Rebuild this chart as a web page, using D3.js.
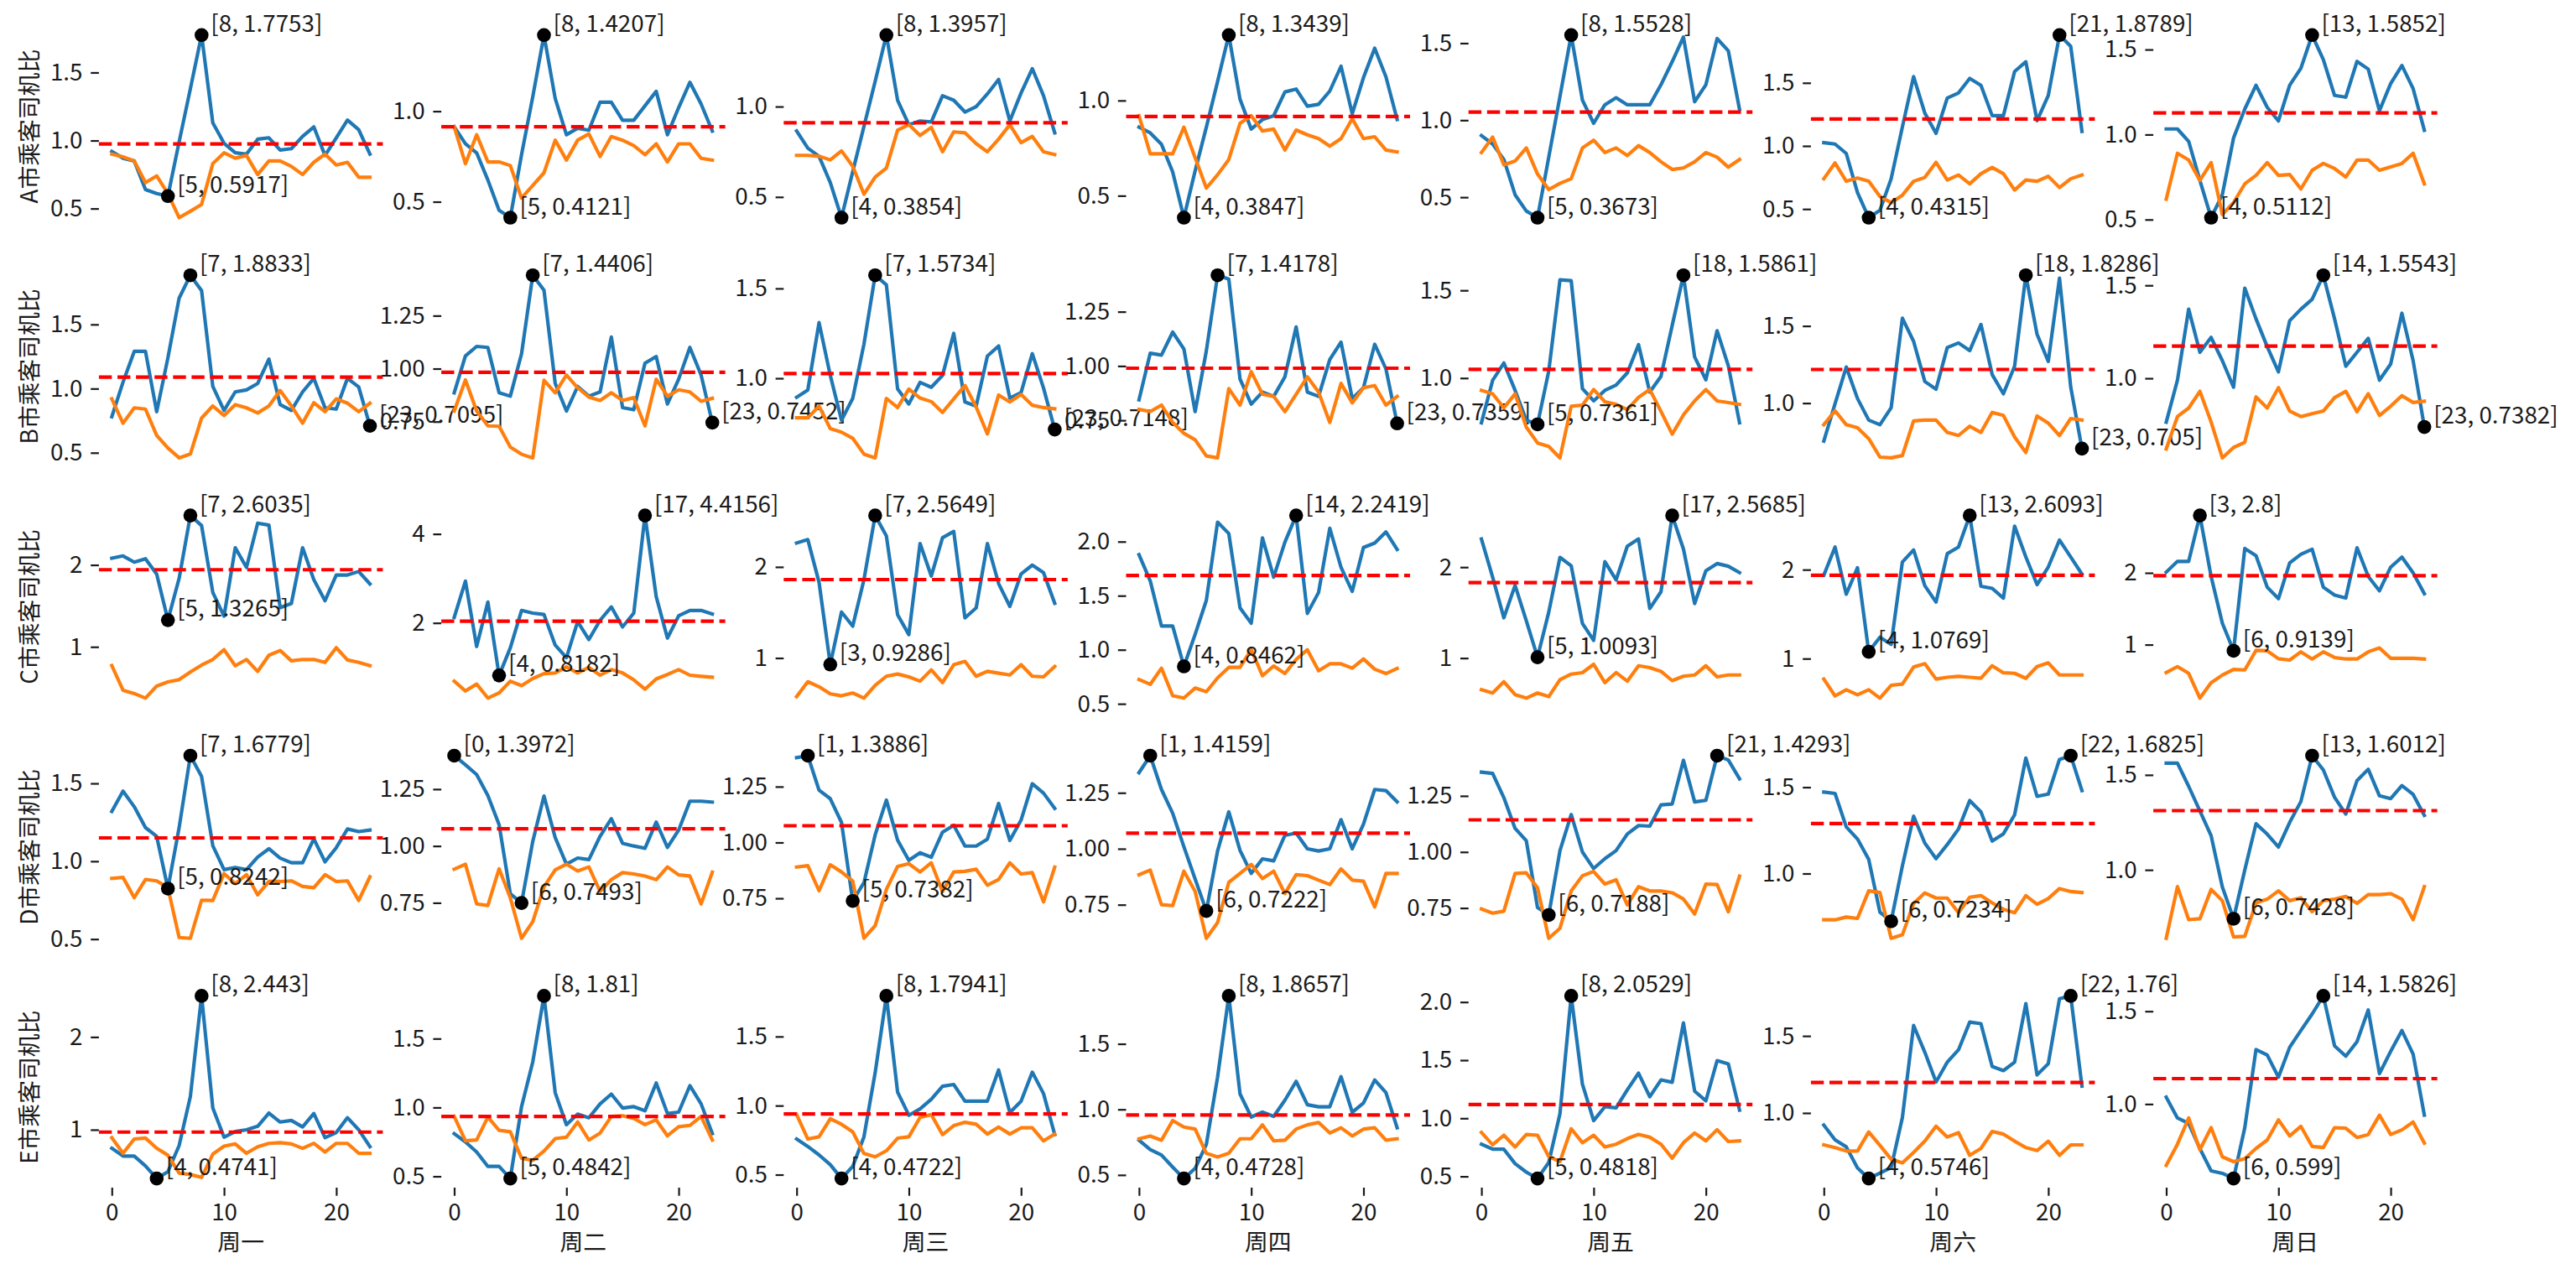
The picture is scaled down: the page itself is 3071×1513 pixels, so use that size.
<!DOCTYPE html>
<html><head><meta charset="utf-8">
<script src="https://cdn.jsdelivr.net/npm/d3@7"></script>
<style>
body{margin:0;background:#fff}
svg{display:block}
text{font-family:"Noto Sans CJK SC","DejaVu Sans",sans-serif;fill:#1a1a1a}
</style>
</head><body>
<svg id="chart" width="3071" height="1513"></svg>
<script>
const hours = [0,1,2,3,4,5,6,7,8,9,10,11,12,13,14,15,16,17,18,19,20,21,22,23];
const days = ["周一","周二","周三","周四","周五","周六","周日"];
const cityLabels = ["A市乘客司机比","B市乘客司机比","C市乘客司机比","D市乘客司机比","E市乘客司机比"];

const blueA = [
 [0.92,0.87,0.85,0.64,0.61,0.5917,0.99,1.38,1.7753,1.13,0.98,0.91,0.90,1.01,1.02,0.93,0.94,1.03,1.10,0.89,1.02,1.15,1.08,0.90],
 [0.914,0.82,0.77,0.62,0.453,0.4121,0.76,1.08,1.4207,1.07,0.87,0.906,0.895,1.05,1.05,0.95,0.95,1.03,1.11,0.87,1.02,1.16,1.04,0.89],
 [0.865,0.77,0.725,0.58,0.3854,0.64,0.89,1.14,1.3957,1.035,0.90,0.92,0.915,1.06,1.035,0.97,1.0,1.07,1.15,0.92,1.075,1.21,1.06,0.855],
 [0.86,0.83,0.77,0.625,0.3847,0.63,0.86,1.10,1.3439,1.007,0.85,0.90,0.92,1.045,1.06,0.97,0.98,1.05,1.18,0.93,1.12,1.275,1.125,0.90],
 [0.90,0.845,0.745,0.516,0.41,0.3673,0.76,1.155,1.5528,1.13,0.98,1.10,1.146,1.10,1.10,1.10,1.23,1.38,1.54,1.12,1.23,1.53,1.45,1.07],
 [1.026,1.015,0.94,0.63,0.4315,0.49,0.74,1.15,1.55,1.26,1.10,1.38,1.42,1.535,1.48,1.24,1.24,1.59,1.667,1.20,1.40,1.8789,1.79,1.115],
 [1.033,1.033,0.96,0.73,0.5112,0.646,0.98,1.15,1.29,1.16,1.08,1.29,1.39,1.5852,1.44,1.23,1.22,1.43,1.385,1.14,1.30,1.406,1.27,1.025]
];
const orangeA = [
 [0.90,0.88,0.85,0.69,0.74,0.61,0.433,0.48,0.53,0.83,0.91,0.87,0.89,0.75,0.85,0.85,0.81,0.75,0.84,0.90,0.82,0.84,0.73,0.73],
 [0.914,0.71,0.87,0.72,0.72,0.70,0.52,0.59,0.66,0.84,0.73,0.84,0.875,0.75,0.86,0.84,0.81,0.76,0.82,0.72,0.82,0.82,0.74,0.73],
 [0.73,0.73,0.725,0.705,0.755,0.67,0.515,0.61,0.66,0.87,0.90,0.84,0.885,0.75,0.86,0.855,0.795,0.75,0.82,0.90,0.80,0.835,0.75,0.735],
 [0.92,0.72,0.72,0.72,0.86,0.70,0.54,0.61,0.69,0.88,0.92,0.84,0.85,0.74,0.845,0.82,0.80,0.76,0.80,0.905,0.80,0.81,0.74,0.73],
 [0.79,0.89,0.71,0.735,0.82,0.65,0.55,0.59,0.62,0.82,0.87,0.79,0.82,0.77,0.835,0.79,0.73,0.68,0.69,0.73,0.79,0.76,0.695,0.745],
 [0.74,0.865,0.72,0.745,0.72,0.60,0.55,0.61,0.72,0.75,0.87,0.73,0.77,0.70,0.78,0.83,0.78,0.65,0.73,0.72,0.76,0.67,0.74,0.77],
 [0.62,0.89,0.85,0.73,0.835,0.53,0.60,0.71,0.76,0.835,0.76,0.765,0.68,0.79,0.83,0.80,0.75,0.85,0.85,0.79,0.81,0.83,0.89,0.71]
];
const meanA = [0.975,0.914,0.91,0.916,1.053,1.214,1.127];
const ticksA = [["0.5","1.0","1.5"],["0.5","1.0"],["0.5","1.0"],["0.5","1.0"],["0.5","1.0","1.5"],["0.5","1.0","1.5"],["0.5","1.0","1.5"]];

const blueB = [
 [0.78,1.05,1.29,1.29,0.82,1.24,1.705,1.8833,1.764,1.017,0.83,0.974,0.99,1.04,1.23,0.875,0.83,0.974,1.08,0.85,0.84,1.08,1.013,0.7095],
 [0.886,1.06,1.105,1.10,0.886,0.87,1.07,1.4406,1.37,0.93,0.80,0.916,0.87,0.89,1.149,0.816,0.806,1.026,1.057,0.833,0.95,1.10,0.97,0.7452],
 [0.894,0.935,1.31,1.016,0.767,0.888,1.19,1.5734,1.52,0.94,0.857,0.977,0.95,1.016,1.25,0.868,0.845,1.124,1.18,0.89,0.92,1.137,0.946,0.7148],
 [0.844,1.059,1.05,1.156,1.078,0.79,1.07,1.4178,1.40,0.94,0.824,0.88,0.86,0.95,1.18,0.88,0.86,1.03,1.11,0.85,0.90,1.10,0.987,0.7359],
 [0.745,0.987,1.086,0.93,0.76,0.7361,1.04,1.56,1.555,0.94,0.87,0.93,0.96,1.03,1.19,0.92,1.01,1.30,1.5861,1.12,0.99,1.27,1.07,0.745],
 [0.754,0.996,1.234,1.03,0.89,0.86,0.97,1.55,1.40,1.14,1.09,1.36,1.39,1.34,1.51,1.185,1.06,1.24,1.8286,1.446,1.27,1.81,1.104,0.705],
 [0.764,0.99,1.372,1.14,1.22,1.095,0.952,1.485,1.32,1.17,1.035,1.31,1.372,1.425,1.5543,1.32,1.065,1.14,1.215,0.99,1.077,1.35,1.095,0.7382]
];
const orangeB = [
 [0.92,0.73,0.85,0.84,0.635,0.537,0.46,0.49,0.77,0.865,0.79,0.875,0.85,0.81,0.865,0.985,0.865,0.73,0.89,0.82,0.92,0.886,0.82,0.886],
 [0.80,0.947,0.80,0.73,0.728,0.63,0.596,0.579,0.945,0.886,0.97,0.91,0.866,0.85,0.886,0.85,0.863,0.73,0.95,0.87,0.90,0.89,0.846,0.86],
 [0.78,0.78,0.845,0.72,0.70,0.666,0.578,0.557,0.888,0.837,0.94,0.89,0.87,0.81,0.885,0.96,0.84,0.69,0.907,0.868,0.91,0.85,0.837,0.83],
 [0.80,0.79,0.82,0.74,0.69,0.66,0.586,0.577,0.896,0.82,0.974,0.87,0.86,0.79,0.87,0.95,0.88,0.74,0.92,0.83,0.90,0.91,0.82,0.86],
 [0.93,0.91,0.83,0.91,0.72,0.63,0.61,0.545,0.84,0.845,0.935,0.865,0.85,0.82,0.89,0.935,0.81,0.68,0.79,0.87,0.935,0.87,0.86,0.85],
 [0.86,0.95,0.86,0.84,0.77,0.65,0.645,0.66,0.885,0.89,0.89,0.81,0.79,0.85,0.81,0.94,0.92,0.78,0.68,0.917,0.87,0.79,0.90,0.89],
 [0.62,0.794,0.84,0.93,0.765,0.572,0.628,0.656,0.90,0.84,0.95,0.824,0.794,0.81,0.824,0.896,0.93,0.82,0.917,0.80,0.85,0.907,0.87,0.877]
];
const meanB = [1.09,0.983,1.026,0.99,1.05,1.218,1.173];
const ticksB = [["0.5","1.0","1.5"],["0.75","1.00","1.25"],["1.0","1.5"],["0.75","1.00","1.25"],["1.0","1.5"],["1.0","1.5"],["1.0","1.5"]];

const blueC = [
 [2.082,2.11,2.034,2.075,1.887,1.3265,1.836,2.6035,2.48,1.665,1.375,2.21,1.97,2.51,2.485,1.478,1.53,2.21,1.82,1.563,1.877,1.877,1.92,1.768],
 [2.125,2.94,1.47,2.47,0.8182,1.44,2.28,2.22,2.19,1.50,1.22,2.03,1.625,2.06,2.36,1.91,2.22,4.4156,2.59,1.66,2.16,2.28,2.28,2.2],
 [2.263,2.30,1.83,0.9286,1.505,1.35,1.86,2.5649,2.34,1.474,1.257,2.257,1.90,2.32,2.39,1.44,1.55,2.257,1.817,1.567,1.923,2.02,1.938,1.60],
 [1.88,1.637,1.22,1.22,0.8462,1.142,1.457,2.18,2.075,1.388,1.245,2.034,1.672,1.995,2.2419,1.336,1.53,2.124,1.762,1.54,1.946,1.987,2.09,1.927],
 [2.31,1.89,1.443,1.80,1.41,1.0093,1.505,2.108,2.015,1.38,1.195,2.06,1.86,2.23,2.31,1.545,1.73,2.5685,2.20,1.60,1.96,2.04,2.01,1.94],
 [1.937,2.254,1.724,2.022,1.0769,1.24,1.16,2.086,2.222,1.819,1.635,2.18,2.254,2.6093,1.813,1.79,1.68,2.49,2.143,1.832,2.03,2.333,2.143,1.95],
 [2.01,2.16,2.16,2.8,1.95,1.3,0.9139,2.34,2.24,1.80,1.64,2.14,2.26,2.33,1.80,1.69,1.65,2.35,1.95,1.75,2.08,2.22,2.0,1.71]
];
const orangeC = [
 [0.771,0.471,0.43,0.375,0.522,0.573,0.6,0.693,0.778,0.846,0.966,0.77,0.846,0.70,0.898,0.956,0.83,0.846,0.846,0.81,0.99,0.84,0.81,0.77],
 [0.69,0.47,0.625,0.31,0.425,0.69,0.59,0.75,0.86,0.875,1.01,0.875,1.0,0.825,0.95,0.875,0.72,0.51,0.74,0.84,0.95,0.825,0.80,0.78],
 [0.576,0.74,0.684,0.607,0.585,0.616,0.56,0.70,0.80,0.824,0.793,0.746,0.87,0.73,0.926,0.963,0.80,0.854,0.833,0.814,0.926,0.80,0.793,0.907],
 [0.724,0.68,0.83,0.575,0.553,0.646,0.612,0.74,0.837,0.837,1.0,0.76,0.85,0.78,0.91,1.0,0.806,0.87,0.87,0.83,0.915,0.82,0.78,0.827],
 [0.653,0.616,0.74,0.598,0.56,0.616,0.576,0.762,0.824,0.84,0.932,0.73,0.84,0.746,0.916,0.895,0.854,0.752,0.80,0.814,0.916,0.793,0.814,0.814],
 [0.77,0.58,0.65,0.594,0.65,0.556,0.70,0.714,0.905,0.943,0.77,0.79,0.80,0.79,0.78,0.92,0.84,0.835,0.778,0.91,0.952,0.816,0.816,0.816],
 [0.61,0.694,0.60,0.255,0.47,0.576,0.655,0.647,0.92,0.914,0.804,0.785,0.90,0.80,0.90,0.82,0.80,0.80,0.90,0.953,0.81,0.81,0.81,0.80]
];
const meanC = [1.942,2.04,1.861,1.687,1.83,1.937,1.96];
const ticksC = [["1","2"],["2","4"],["1","2"],["0.5","1.0","1.5","2.0"],["1","2"],["1","2"],["1","2"]];

const blueD = [
 [1.32,1.45,1.35,1.216,1.16,0.8242,1.216,1.6779,1.544,1.10,0.946,0.96,0.946,1.027,1.08,1.02,0.99,0.99,1.144,0.996,1.087,1.207,1.19,1.20],
 [1.3972,1.357,1.314,1.222,1.094,0.79,0.7493,1.02,1.22,1.037,0.92,0.947,0.94,1.043,1.12,1.012,1.0,0.99,1.105,0.994,1.07,1.197,1.197,1.193],
 [1.38,1.3886,1.234,1.196,1.09,0.7382,0.82,1.034,1.19,1.01,0.92,0.954,0.934,1.046,1.077,0.984,0.984,1.015,1.175,1.009,1.10,1.263,1.221,1.153],
 [1.34,1.4159,1.265,1.159,1.009,0.865,0.7222,0.99,1.165,0.993,0.89,0.955,0.946,1.06,1.07,1.0,0.99,1.0,1.13,1.0,1.11,1.265,1.26,1.21],
 [1.356,1.35,1.242,1.105,1.05,0.752,0.7188,1.006,1.167,1.0,0.926,0.97,1.006,1.08,1.118,1.115,1.21,1.214,1.409,1.223,1.23,1.4293,1.41,1.326],
 [1.472,1.464,1.27,1.20,1.082,0.776,0.7234,1.044,1.332,1.176,1.086,1.168,1.258,1.423,1.357,1.188,1.23,1.34,1.669,1.447,1.46,1.661,1.6825,1.48],
 [1.562,1.562,1.44,1.31,1.18,0.91,0.7428,1.0,1.243,1.188,1.12,1.25,1.36,1.6012,1.526,1.382,1.294,1.47,1.53,1.39,1.375,1.444,1.397,1.287]
];
const orangeD = [
 [0.89,0.896,0.766,0.883,0.874,0.83,0.51,0.505,0.75,0.748,0.92,0.856,0.914,0.784,0.87,0.87,0.874,0.838,0.83,0.914,0.87,0.874,0.748,0.90],
 [0.898,0.92,0.745,0.738,0.90,0.772,0.594,0.667,0.82,0.895,0.92,0.89,0.908,0.80,0.852,0.883,0.877,0.868,0.852,0.908,0.873,0.868,0.745,0.885],
 [0.89,0.896,0.784,0.90,0.868,0.828,0.571,0.628,0.79,0.893,0.905,0.868,0.909,0.78,0.868,0.871,0.88,0.809,0.834,0.909,0.859,0.865,0.734,0.89],
 [0.884,0.905,0.75,0.746,0.90,0.81,0.60,0.67,0.85,0.89,0.93,0.867,0.90,0.80,0.884,0.88,0.86,0.84,0.91,0.86,0.855,0.74,0.89,0.89],
 [0.746,0.727,0.736,0.904,0.907,0.84,0.615,0.66,0.826,0.894,0.913,0.857,0.876,0.764,0.845,0.826,0.826,0.818,0.79,0.723,0.857,0.855,0.733,0.892],
 [0.732,0.732,0.748,0.74,0.90,0.89,0.625,0.645,0.826,0.888,0.858,0.858,0.773,0.863,0.872,0.83,0.793,0.773,0.872,0.822,0.855,0.913,0.896,0.89],
 [0.64,0.912,0.738,0.743,0.897,0.838,0.647,0.65,0.826,0.846,0.89,0.838,0.853,0.78,0.838,0.846,0.86,0.824,0.87,0.87,0.875,0.846,0.738,0.912]
];
const meanD = [1.15,1.076,1.075,1.07,1.143,1.29,1.312];
const ticksD = [["0.5","1.0","1.5"],["0.75","1.00","1.25"],["0.75","1.00","1.25"],["0.75","1.00","1.25"],["0.75","1.00","1.25"],["1.0","1.5"],["1.0","1.5"]];

const blueE = [
 [0.80,0.716,0.716,0.61,0.4741,0.547,0.83,1.358,2.443,1.235,0.92,0.98,1.0,1.037,1.18,1.083,1.10,1.03,1.174,0.914,0.97,1.13,1.0,0.817],
 [0.81,0.75,0.677,0.572,0.572,0.4842,1.006,1.33,1.81,1.107,0.875,0.952,0.925,1.026,1.097,0.996,1.006,0.976,1.178,0.956,0.966,1.158,1.026,0.81],
 [0.758,0.704,0.643,0.572,0.4722,0.56,0.774,1.238,1.7941,1.097,0.93,0.976,1.046,1.14,1.153,1.032,1.032,1.032,1.258,0.95,1.032,1.242,1.087,0.79],
 [0.765,0.694,0.652,0.56,0.4728,0.55,0.733,1.246,1.8657,1.118,0.942,0.98,0.947,1.07,1.214,1.036,1.02,1.02,1.25,0.978,1.049,1.224,1.128,0.86],
 [0.777,0.734,0.734,0.61,0.537,0.4818,0.62,1.04,2.0529,1.293,0.98,1.10,1.09,1.245,1.388,1.185,1.33,1.31,1.82,1.233,1.15,1.496,1.468,1.07],
 [0.921,0.826,0.78,0.643,0.5746,0.61,0.645,0.97,1.568,1.394,1.201,1.33,1.41,1.59,1.58,1.302,1.275,1.33,1.71,1.247,1.32,1.742,1.76,1.174],
 [1.037,0.925,0.896,0.76,0.64,0.627,0.599,0.873,1.294,1.264,1.145,1.306,1.396,1.485,1.5826,1.313,1.258,1.336,1.507,1.164,1.284,1.396,1.269,0.94]
];
const orangeE = [
 [0.914,0.746,0.90,0.91,0.80,0.725,0.532,0.517,0.486,0.737,0.823,0.847,0.746,0.817,0.853,0.86,0.847,0.80,0.853,0.76,0.853,0.853,0.746,0.746],
 [0.935,0.758,0.764,0.93,0.834,0.824,0.632,0.616,0.683,0.774,0.784,0.895,0.764,0.814,0.935,0.94,0.92,0.875,0.91,0.794,0.86,0.87,0.935,0.764],
 [0.935,0.758,0.774,0.905,0.865,0.81,0.653,0.629,0.673,0.764,0.774,0.915,0.935,0.79,0.855,0.879,0.865,0.794,0.845,0.794,0.839,0.839,0.744,0.794],
 [0.776,0.797,0.765,0.915,0.865,0.85,0.665,0.637,0.665,0.776,0.776,0.882,0.76,0.765,0.85,0.882,0.90,0.82,0.86,0.797,0.85,0.86,0.765,0.776],
 [0.878,0.772,0.854,0.753,0.861,0.854,0.67,0.628,0.91,0.79,0.854,0.753,0.777,0.825,0.861,0.837,0.777,0.657,0.79,0.873,0.806,0.902,0.8,0.806],
 [0.793,0.775,0.753,0.753,0.877,0.79,0.70,0.676,0.744,0.817,0.914,0.844,0.872,0.725,0.77,0.88,0.863,0.817,0.775,0.756,0.817,0.725,0.793,0.793],
 [0.67,0.784,0.925,0.754,0.873,0.716,0.69,0.706,0.761,0.806,0.915,0.828,0.88,0.772,0.766,0.873,0.87,0.82,0.836,0.94,0.836,0.861,0.903,0.79]
];
const meanE = [0.975,0.935,0.94,0.957,1.118,1.198,1.137];
const ticksE = [["1","2"],["0.5","1.0","1.5"],["0.5","1.0","1.5"],["0.5","1.0","1.5"],["0.5","1.0","1.5","2.0"],["1.0","1.5"],["1.0","1.5"]];
const xTickValues = [0,10,20];

const blueRows = [blueA,blueB,blueC,blueD,blueE];
const orangeRows = [orangeA,orangeB,orangeC,orangeD,orangeE];
const meanRows = [meanA,meanB,meanC,meanD,meanE];
const tickRows = [ticksA,ticksB,ticksC,ticksD,ticksE];

// layout
const FS = 27.8;
const axLeft0 = 117.9, colStep = 408.2, axW = 338.5;
const axTop0 = 30.9, rowStep = 286.4, axH = 239.5;
const LW = 4.17;

const svg = d3.select("#chart");
const fmtLabel = (i, v) => `[${i}, ${+v.toFixed(4)}]`;

for (let r = 0; r < 5; r++) {
  for (let c = 0; c < 7; c++) {
    const L = axLeft0 + colStep * c, T = axTop0 + rowStep * r;
    const blue = blueRows[r][c], orange = orangeRows[r][c];
    const all = blue.concat(orange);
    const lo = d3.min(all), hi = d3.max(all), pad = (hi - lo) * 0.05;
    const x = d3.scaleLinear().domain([-1.15, 24.15]).range([L, L + axW]);
    const y = d3.scaleLinear().domain([lo - pad, hi + pad]).range([T + axH, T]);
    const g = svg.append("g");

    // y axis
    const ticks = tickRows[r][c];
    const ya = g.append("g").attr("transform", `translate(${L},0)`)
      .call(d3.axisLeft(y).tickValues(ticks.map(Number)).tickFormat((d, i) => ticks[i]).tickSize(9.7).tickPadding(9.7));
    ya.select(".domain").remove();
    ya.selectAll(".tick line").attr("stroke", "#1a1a1a").attr("stroke-width", 2.2);
    ya.selectAll(".tick text").attr("font-size", FS).attr("font-family", '"Noto Sans CJK SC", sans-serif').attr("fill", "#1a1a1a");

    if (r === 4) {
      const xa = g.append("g").attr("transform", `translate(0,${T + axH})`)
        .call(d3.axisBottom(x).tickValues(xTickValues).tickSize(9.7).tickPadding(9.7));
      xa.select(".domain").remove();
      xa.selectAll(".tick line").attr("stroke", "#1a1a1a").attr("stroke-width", 2.2);
      xa.selectAll(".tick text").attr("font-size", FS).attr("font-family", '"Noto Sans CJK SC", sans-serif').attr("fill", "#1a1a1a");
      g.append("text").attr("x", L + axW / 2).attr("y", 1479).attr("text-anchor", "middle")
        .attr("dominant-baseline", "central").attr("font-size", FS).text(days[c]);
    }
    if (c === 0) {
      g.append("text").attr("transform", `translate(33,${T + axH / 2}) rotate(-90)`)
        .attr("text-anchor", "middle").attr("dominant-baseline", "central")
        .attr("font-size", FS).text(cityLabels[r]);
    }

    const line = d3.line().x((d, i) => x(hours[i])).y(d => y(d));
    g.append("path").datum(blue).attr("d", line).attr("fill", "none")
      .attr("stroke", "#1f77b4").attr("stroke-width", LW).attr("stroke-linejoin", "round").attr("stroke-linecap", "square");
    g.append("path").datum(orange).attr("d", line).attr("fill", "none")
      .attr("stroke", "#ff7f0e").attr("stroke-width", LW).attr("stroke-linejoin", "round").attr("stroke-linecap", "square");
    g.append("line").attr("x1", L).attr("x2", L + axW)
      .attr("y1", y(meanRows[r][c])).attr("y2", y(meanRows[r][c]))
      .attr("stroke", "#ff0000").attr("stroke-width", LW).attr("stroke-dasharray", "15.4,6.7");

    const iMax = d3.maxIndex(blue), iMin = d3.minIndex(blue);
    [[iMax, blue[iMax]], [iMin, blue[iMin]]].forEach(([i, v]) => {
      g.append("circle").attr("cx", x(hours[i])).attr("cy", y(v)).attr("r", 8.3).attr("fill", "#000");
      g.append("text").attr("x", x(hours[i]) + 11).attr("y", y(v) - 4)
        .attr("font-size", FS).attr("fill", "#000").text(fmtLabel(hours[i], v));
    });
  }
}
</script>
</body></html>
